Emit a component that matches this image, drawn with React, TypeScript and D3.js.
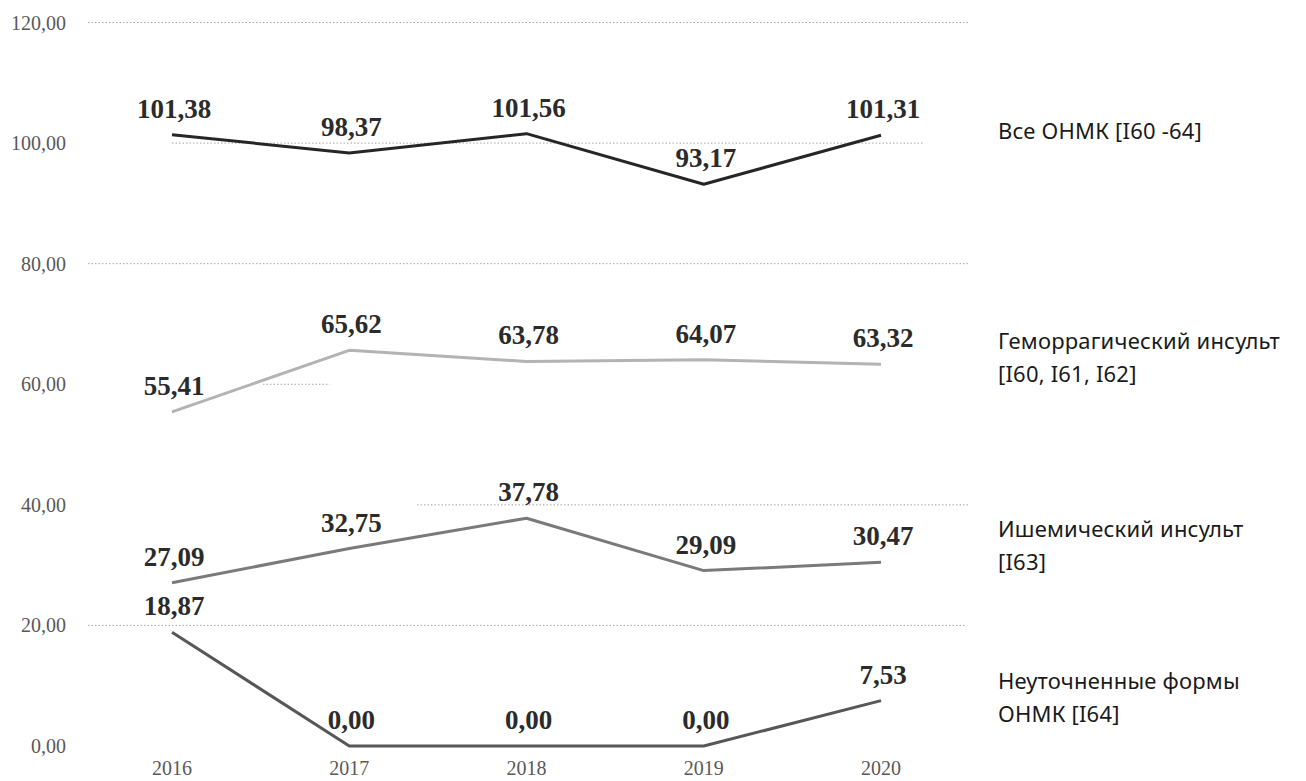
import React from "react";
import * as d3 from "d3";

const years = ["2016", "2017", "2018", "2019", "2020"];
const allStroke = [101.38, 98.37, 101.56, 93.17, 101.31];
const hemorrhagic = [55.41, 65.62, 63.78, 64.07, 63.32];
const ischemic = [27.09, 32.75, 37.78, 29.09, 30.47];
const unspecified = [18.87, 0.0, 0.0, 0.0, 7.53];
const yTicks = [0, 20, 40, 60, 80, 100, 120];

const seriesNames = [
  ["Все ОНМК [I60 -64]"],
  ["Геморрагический инсульт", "[I60, I61, I62]"],
  ["Ишемический инсульт", "[I63]"],
  ["Неуточненные формы", "ОНМК [I64]"],
];
const seriesValues = [allStroke, hemorrhagic, ischemic, unspecified];

const W = 1306;
const H = 781;
const lineColors = ["#262626", "#b3b3b3", "#7a7a7a", "#575757"];
// legend first-line baselines
const legendY = [139, 349, 537, 689];
// visible grid segments [x0, x1] per tick
const gridSeg: Record<number, [number, number][]> = {
  120: [[88, 968]],
  100: [[172, 923]],
  80: [[88, 968]],
  60: [[263, 330]],
  40: [[417, 968]],
  20: [[88, 966]],
  0: [],
};

const fmt = (v: number) => v.toFixed(2).replace(".", ",");

export default function App() {
  const x = d3.scalePoint<string>().domain(years).range([172, 881]);
  const y = d3.scaleLinear().domain([0, 120]).range([746, 22.5]);
  const line = d3
    .line<number>()
    .x((_, i) => x(years[i]) as number)
    .y((d) => y(d));

  return (
    <svg
      width={W}
      height={H}
      style={{ position: "absolute", left: 0, top: 0, background: "#fff" }}
    >
      <rect width={W} height={H} fill="#fff" />
      {yTicks.map((t) => (
        <g key={t}>
          {gridSeg[t].map(([a, b], k) => (
            <line
              key={k}
              x1={a}
              x2={b}
              y1={y(t)}
              y2={y(t)}
              stroke="#a6a6a6"
              strokeWidth={1}
              strokeDasharray="1.5 2"
            />
          ))}
          <text
            x={66}
            y={y(t)}
            dy="0.35em"
            textAnchor="end"
            fontFamily="'Liberation Serif', 'Times New Roman', serif"
            fontSize={20}
            fill="#595959"
          >
            {fmt(t)}
          </text>
        </g>
      ))}
      {years.map((yr) => (
        <text
          key={yr}
          x={x(yr)}
          y={775}
          textAnchor="middle"
          fontFamily="'Liberation Serif', 'Times New Roman', serif"
          fontSize={20}
          fill="#595959"
        >
          {yr}
        </text>
      ))}
      {seriesValues.map((vals, si) => (
        <g key={si}>
          <path
            d={line(vals) || ""}
            fill="none"
            stroke={lineColors[si]}
            strokeWidth={3}
            strokeLinejoin="round"
          />
          {vals.map((v, i) => (
            <text
              key={i}
              x={(x(years[i]) as number) + 2}
              y={y(v) - 17}
              textAnchor="middle"
              fontFamily="'Liberation Serif', 'Times New Roman', serif"
              fontWeight="bold"
              fontSize={27}
              fill="#2b2b2b"
            >
              {fmt(v)}
            </text>
          ))}
        </g>
      ))}
      {seriesNames.map((lines, si) => (
        <text
          key={si}
          x={998}
          y={legendY[si]}
          fontFamily="'Noto Sans', 'Open Sans', sans-serif"
          fontSize={22}
          letterSpacing={0.2}
          fill="#1a1a1a"
        >
          {lines.map((ln, k) => (
            <tspan key={k} x={998} dy={k === 0 ? 0 : 33}>
              {ln}
            </tspan>
          ))}
        </text>
      ))}
    </svg>
  );
}
